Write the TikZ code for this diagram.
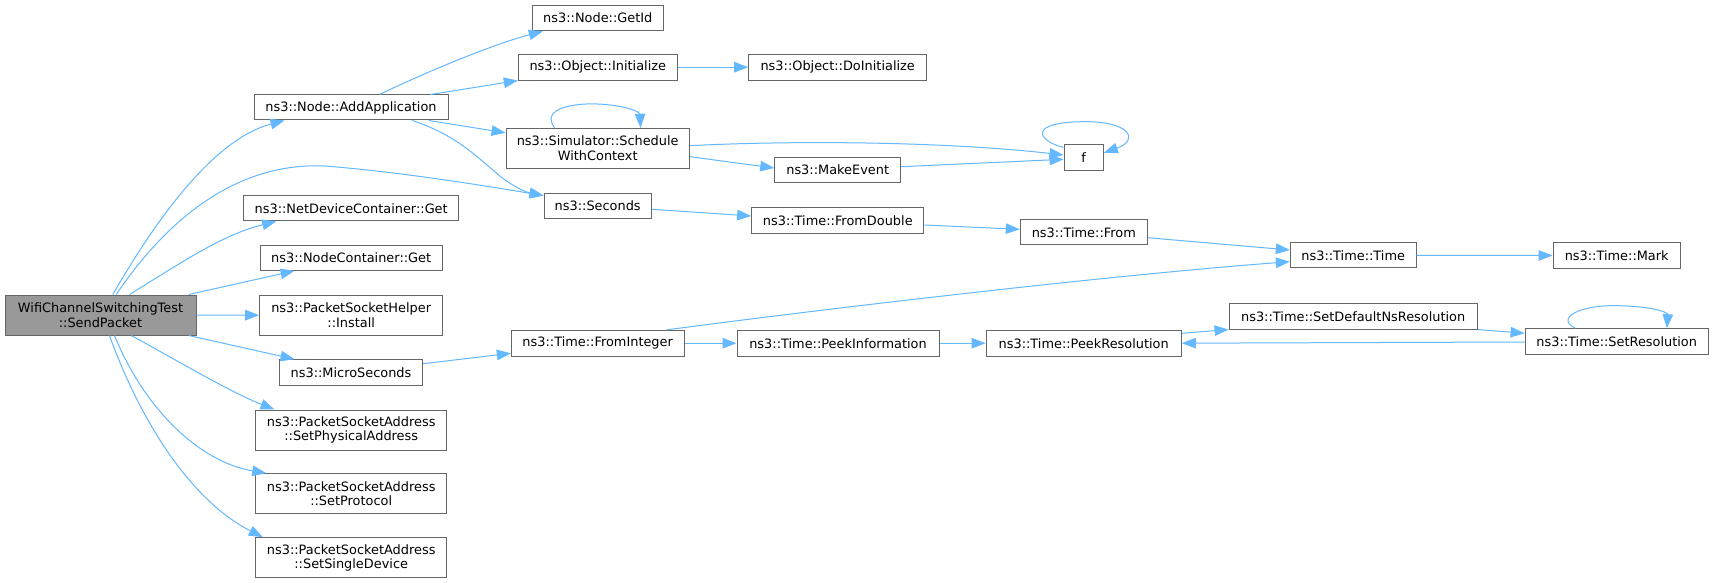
\documentclass[tikz,border=0pt]{standalone}
\usepackage{fontspec}
\setmainfont{DejaVu Sans}
\usetikzlibrary{arrows.meta,calc}
\definecolor{edgec}{HTML}{63B8FF}
\definecolor{bord}{HTML}{666666}
\definecolor{hl}{HTML}{999999}
\begin{document}
\begin{tikzpicture}[x=1pt,y=-1pt,
  font=\fontsize{12.9}{14.7}\selectfont,
  box/.style={draw=bord, line width=1pt, fill=white, inner sep=0pt, align=center, text=black},
  e/.style={draw=edgec, line width=1pt, -{Triangle[length=14pt,width=10.5pt]}, fill=none}]
\useasboundingbox (0,0) rectangle (1713,583);
\fill[white] (0,0) rectangle (1713,583);
% nodes
\node[box, fill=hl, minimum width=191pt, minimum height=40pt] (sp) at (100.5,315) {WifiChannelSwitchingTest\\::SendPacket};
\node[box, minimum width=194pt, minimum height=25pt] (addapp) at (351,107.5) {ns3::Node::AddApplication};
\node[box, minimum width=215pt, minimum height=25.3pt] (netdev) at (351.2,208.3) {ns3::NetDeviceContainer::Get};
\node[box, minimum width=181.7pt, minimum height=25pt] (nodecont) at (351.2,257.8) {ns3::NodeContainer::Get};
\node[box, minimum width=183pt, minimum height=40.3pt] (install) at (351.2,315.2) {ns3::PacketSocketHelper\\::Install};
\node[box, minimum width=143.4pt, minimum height=25.6pt] (micro) at (351,372.5) {ns3::MicroSeconds};
\node[box, minimum width=191pt, minimum height=40pt] (setphys) at (351.2,430) {ns3::PacketSocketAddress\\::SetPhysicalAddress};
\node[box, minimum width=191pt, minimum height=40.3pt] (setproto) at (351.2,493.8) {ns3::PacketSocketAddress\\::SetProtocol};
\node[box, minimum width=191pt, minimum height=40.3pt] (setsingle) at (351.2,557.8) {ns3::PacketSocketAddress\\::SetSingleDevice};
\node[box, minimum width=131pt, minimum height=25.7pt] (getid) at (597.8,18) {ns3::Node::GetId};
\node[box, minimum width=159pt, minimum height=25.7pt] (init) at (597.8,67.2) {ns3::Object::Initialize};
\node[box, minimum width=183.3pt, minimum height=40pt] (sched) at (597.7,148.3) {ns3::Simulator::Schedule\\WithContext};
\node[box, minimum width=107.3pt, minimum height=25.7pt] (seconds) at (597.7,205.9) {ns3::Seconds};
\node[box, minimum width=172.7pt, minimum height=25.7pt] (fromint) at (597.7,343.2) {ns3::Time::FromInteger};
\node[box, minimum width=178pt, minimum height=25.7pt] (doinit) at (837.7,67.2) {ns3::Object::DoInitialize};
\node[box, minimum width=126pt, minimum height=25.3pt] (makeev) at (837.7,169.7) {ns3::MakeEvent};
\node[box, minimum width=172.3pt, minimum height=25.6pt] (fromdbl) at (837.8,220.5) {ns3::Time::FromDouble};
\node[box, minimum width=202pt, minimum height=25.7pt] (peekinfo) at (838,343.2) {ns3::Time::PeekInformation};
\node[box, minimum width=39.3pt, minimum height=25.7pt] (f) at (1083.7,157.8) {f};
\node[box, minimum width=127pt, minimum height=25.3pt] (tfrom) at (1083.8,232.3) {ns3::Time::From};
\node[box, minimum width=195.3pt, minimum height=25.7pt] (peekres) at (1083.7,343.2) {ns3::Time::PeekResolution};
\node[box, minimum width=125.7pt, minimum height=25.3pt] (ttime) at (1353.2,255.3) {ns3::Time::Time};
\node[box, minimum width=248.3pt, minimum height=25.3pt] (setdef) at (1353.2,316.4) {ns3::Time::SetDefaultNsResolution};
\node[box, minimum width=127.3pt, minimum height=25.6pt] (mark) at (1616.7,255.5) {ns3::Time::Mark};
\node[box, minimum width=183.3pt, minimum height=26pt] (setres) at (1616.7,341.7) {ns3::Time::SetResolution};
% edges from SendPacket
\draw[e] ($(sp.north west)+(108.3,0)$) .. controls (150,230) and (210,140) .. ($(addapp.south west)+(31,0)$);
\draw[e] ($(sp.north west)+(111.7,0)$) .. controls (170,215) and (240,162) .. (325,166) .. controls (400,172) and (480,185) .. ($(seconds.north west)+(0,3)$);
\draw[e] ($(sp.north west)+(125,0)$) .. controls (170,270) and (220,235) .. ($(netdev.south west)+(33,0)$);
\draw[e] ($(sp.north east)+(-7.7,0)$) -- ($(nodecont.south west)+(34.7,0)$);
\draw[e] (sp.east) -- (install.west);
\draw[e] ($(sp.south east)+(-7.7,0)$) -- ($(micro.north west)+(15.7,0)$);
\draw[e] ($(sp.south west)+(126.7,0)$) .. controls (180,362) and (230,392) .. ($(setphys.north west)+(19.3,0)$);
\draw[e] ($(sp.south west)+(110,0)$) .. controls (145,410) and (200,462) .. ($(setproto.north west)+(11,0)$);
\draw[e] ($(sp.south west)+(105,0)$) .. controls (140,420) and (190,500) .. ($(setsingle.north west)+(7.6,0)$);
% AddApplication
\draw[e] ($(addapp.north west)+(126,0)$) .. controls (420,75) and (490,45) .. ($(getid.south west)+(11,0)$);
\draw[e] ($(addapp.north east)+(-18,0)$) -- (init.south west);
\draw[e] ($(addapp.south east)+(-19.7,0)$) -- ($(sched.north west)+(0,5)$);
\draw[e] ($(addapp.south east)+(-36.3,0)$) .. controls (450,133) and (470,150) .. (495,172) .. controls (510,185) and (525,192) .. ($(seconds.north west)+(0,3)$);
% Schedule
\draw[e] ($(sched.north west)+(49,0)$) .. controls (540,108) and (575,103) .. (597,104) .. controls (625,105) and (640,112) .. ($(sched.north east)+(-49.3,0)$);
\draw[e] ($(sched.east)+(0,-2.6)$) .. controls (800,140) and (950,142) .. ($(f.west)+(0,-2.8)$);
\draw[e] ($(sched.east)+(0,8.4)$) -- ($(makeev.west)+(0,-1.7)$);
\draw[e] ($(makeev.east)+(0,-3)$) -- ($(f.west)+(0,1.5)$);
\draw[e] ($(f.north west)+(0,3)$) .. controls (1035,140) and (1030,122) .. (1083,121.7) .. controls (1130,121) and (1140,140) .. ($(f.east)+(0,-5)$);
\draw[e] (init.east) -- (doinit.west);
% time chain
\draw[e] ($(seconds.east)+(0,3.4)$) -- ($(fromdbl.west)+(0,-4.5)$);
\draw[e] ($(fromdbl.east)+(0,4.5)$) -- ($(tfrom.west)+(0,-3)$);
\draw[e] ($(tfrom.east)+(0,5.4)$) -- ($(ttime.west)+(0,-5.3)$);
\draw[e] ($(fromint.north)+(69,0)$) .. controls (800,312) and (1100,276) .. ($(ttime.west)+(0,6.4)$);
\draw[e] (ttime.east) -- (mark.west);
\draw[e] ($(micro.east)+(0,-8.8)$) -- ($(fromint.west)+(0,10.1)$);
\draw[e] (fromint.east) -- (peekinfo.west);
\draw[e] (peekinfo.east) -- (peekres.west);
\draw[e] ($(peekres.east)+(0,-9.9)$) -- (setdef.south west);
\draw[e] (setdef.south east) -- ($(setres.west)+(0,-8.4)$);
\draw[e] ($(setres.west)+(0,0.3)$) -- (peekres.east);
\draw[e] ($(setres.north west)+(50.7,0)$) .. controls (1555,318) and (1580,305) .. (1616,305.7) .. controls (1650,306) and (1668,312) .. ($(setres.north east)+(-42,0)$);
\end{tikzpicture}
\end{document}
